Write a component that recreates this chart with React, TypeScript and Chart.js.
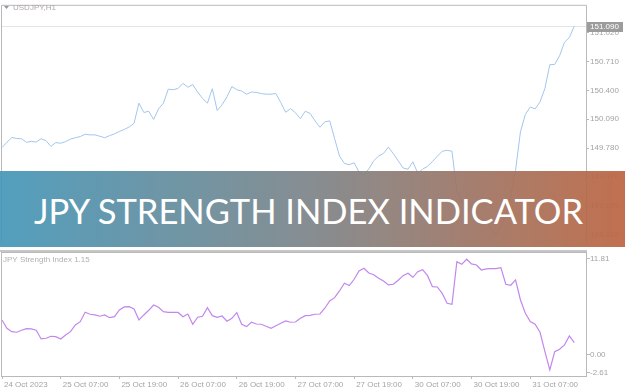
import React, { useEffect, useRef } from 'react';
import { Chart, registerables } from 'chart.js';

Chart.register(...registerables);

// ---------- data ----------
const timeLabels = [
  '24 Oct 2023', '25 Oct 07:00', '25 Oct 19:00', '26 Oct 07:00', '26 Oct 19:00',
  '27 Oct 07:00', '27 Oct 19:00', '30 Oct 07:00', '30 Oct 19:00', '31 Oct 07:00',
];
const labelBars = [0, 12, 24, 36, 48, 60, 72, 84, 96, 108];

const usdjpy = [
  149.787, 149.842, 149.894, 149.883, 149.880, 149.842, 149.852, 149.845, 149.880, 149.860,
  149.798, 149.839, 149.832, 149.849, 149.876, 149.891, 149.904, 149.928, 149.922, 149.922,
  149.907, 149.891, 149.914, 149.932, 149.959, 149.980, 150.007, 150.046, 150.263, 150.162,
  150.176, 150.087, 150.201, 150.263, 150.413, 150.407, 150.421, 150.475, 150.434, 150.462,
  150.382, 150.314, 150.263, 150.418, 150.183, 150.245, 150.331, 150.441, 150.407, 150.393,
  150.359, 150.382, 150.379, 150.366, 150.359, 150.359, 150.366, 150.269, 150.165, 150.204,
  150.159, 150.097, 150.176, 150.152, 150.072, 150.004, 150.062, 150.072, 149.883, 149.694,
  149.615, 149.601, 149.622, 149.522, 149.491, 149.556, 149.643, 149.694, 149.723, 149.790,
  149.721, 149.643, 149.566, 149.553, 149.632, 149.511, 149.553, 149.584, 149.635, 149.692,
  149.746, 149.756, 149.746, 149.315, 149.212, 149.108, 149.160, 149.036, 148.953, 149.005,
  148.902, 148.850, 148.933, 149.057, 149.263, 149.542, 149.956, 150.142, 150.221, 150.201,
  150.276, 150.421, 150.676, 150.679, 150.772, 150.917, 150.968, 151.090,
];

const jpyIndex = [
  3.91, 2.94, 2.55, 2.48, 2.71, 2.90, 2.86, 2.71, 1.70, 1.78,
  2.01, 1.97, 1.70, 2.16, 2.55, 3.33, 3.71, 4.80, 4.57, 4.49,
  4.34, 4.49, 4.17, 4.29, 5.07, 5.42, 5.45, 5.19, 3.91, 4.49,
  5.03, 5.65, 5.38, 4.87, 4.80, 4.80, 4.78, 4.29, 4.60, 3.41,
  4.22, 4.34, 5.34, 4.41, 4.22, 4.37, 3.76, 4.10, 4.76, 3.41,
  3.13, 3.64, 3.44, 3.41, 3.17, 2.94, 3.24, 3.52, 3.79, 3.64,
  3.67, 4.10, 4.41, 4.45, 4.57, 4.60, 5.27, 6.12, 6.50, 7.28,
  8.17, 7.90, 8.64, 9.60, 9.92, 9.37, 9.17, 8.76, 8.44, 7.98,
  8.06, 8.52, 9.06, 9.34, 8.87, 9.52, 9.76, 9.06, 7.78, 7.74,
  7.01, 5.85, 5.73, 10.69, 10.38, 10.97, 10.42, 10.30, 9.72, 9.84,
  9.87, 9.87, 9.99, 8.06, 7.94, 8.56, 6.23, 4.69, 3.71, 3.41,
  2.48, 0.22, -1.91, 0.22, 0.50, 1.00, 2.05, 1.27,
];

const priceTicks = [151.02, 150.71, 150.4, 150.09, 149.78, 149.47, 149.155, 148.845];
const lastPrice = 151.09;
const indexTicks = [11.81, 0, -2.61];

const symbolTitle = 'USDJPY,H1';
const indicatorTitle = 'JPY Strength Index 1.15';
const bannerText = 'JPY STRENGTH INDEX INDICATOR';

// ---------- styles ----------
const FRAME = '#b9b9b9';
const TEXT = '#a4a4a4';
const FONT = '8px "Liberation Sans", Arial, sans-serif';
const X_MAX = 119.4;

const upperPlugin = {
  id: 'upperFrame',
  beforeDatasetsDraw(chart: any) {
    const { ctx, chartArea: a } = chart;
    const y = Math.round(chart.scales.y.getPixelForValue(lastPrice)) + 0.5;
    ctx.save();
    ctx.strokeStyle = '#e4e4e4';
    ctx.lineWidth = 1;
    ctx.beginPath();
    ctx.moveTo(a.left, y);
    ctx.lineTo(a.right, y);
    ctx.stroke();
    ctx.restore();
  },
  afterDraw(chart: any) {
    const { ctx, chartArea: a } = chart;
    ctx.save();
    ctx.strokeStyle = FRAME;
    ctx.lineWidth = 1;
    ctx.beginPath();
    ctx.moveTo(a.left - 0.5, a.bottom);
    ctx.lineTo(a.left - 0.5, a.top - 0.5);
    ctx.lineTo(a.right + 0.5, a.top - 0.5);
    ctx.lineTo(a.right + 0.5, a.bottom);
    ctx.stroke();
    // title
    ctx.fillStyle = '#8a98a8';
    ctx.beginPath();
    ctx.moveTo(4, 6);
    ctx.lineTo(9, 6);
    ctx.lineTo(6.5, 9);
    ctx.closePath();
    ctx.fill();
    ctx.font = FONT;
    ctx.fillStyle = '#b0a8a8';
    ctx.textBaseline = 'middle';
    ctx.textAlign = 'left';
    ctx.fillText(symbolTitle, 13, 8);
    // last price tag
    const y = Math.round(chart.scales.y.getPixelForValue(lastPrice));
    ctx.fillStyle = '#9c9c9c';
    ctx.fillRect(a.right + 1, y - 4, 36, 10);
    ctx.fillStyle = '#ffffff';
    ctx.fillText(lastPrice.toFixed(3), a.right + 4, y + 1);
    ctx.restore();
  },
};

const lowerPlugin = {
  id: 'lowerFrame',
  afterDraw(chart: any) {
    const { ctx, chartArea: a } = chart;
    ctx.save();
    ctx.fillStyle = '#c6c6c6';
    ctx.fillRect(0, 0, a.right + 1, 2);
    ctx.strokeStyle = FRAME;
    ctx.lineWidth = 1;
    ctx.strokeRect(a.left - 0.5, a.top + 0.5, a.right - a.left + 1, a.bottom - a.top);
    ctx.font = FONT;
    ctx.fillStyle = '#b0b0b0';
    ctx.textBaseline = 'middle';
    ctx.textAlign = 'left';
    ctx.fillText(indicatorTitle, 3, a.top + 8);
    // right axis labels
    const yScale = chart.scales.y;
    indexTicks.forEach((v, i) => {
      let y = yScale.getPixelForValue(v);
      if (i === 0) y = a.top + 6;
      if (i === indexTicks.length - 1) y = a.bottom - 4;
      y = Math.round(y);
      ctx.strokeStyle = FRAME;
      ctx.beginPath();
      ctx.moveTo(a.right + 1, y + 0.5);
      ctx.lineTo(a.right + 4, y + 0.5);
      ctx.stroke();
      ctx.fillStyle = TEXT;
      ctx.fillText(v.toFixed(2), a.right + 4, y + 1);
    });
    ctx.restore();
  },
};

function Upper() {
  const ref = useRef<HTMLCanvasElement | null>(null);
  useEffect(() => {
    if (!ref.current) return;
    const chart = new Chart(ref.current, {
      type: 'line',
      data: {
        datasets: [
          {
            data: usdjpy.map((v, i) => ({ x: i, y: v })),
            borderColor: '#a3c6ee',
            borderWidth: 1,
            pointRadius: 0,
            tension: 0,
          },
        ],
      },
      options: {
        responsive: false,
        animation: false,
        devicePixelRatio: 1,
        layout: { padding: { left: 2, top: 2, right: 0, bottom: 0 } },
        plugins: { legend: { display: false }, tooltip: { enabled: false } },
        scales: {
          x: { type: 'linear', min: 0, max: X_MAX, display: false },
          y: {
            position: 'right',
            min: 148.747,
            max: 151.309,
            afterBuildTicks: (s: any) => {
              s.ticks = priceTicks.map((v) => ({ value: v }));
            },
            afterFit: (s: any) => {
              s.width = 39;
            },
            ticks: {
              autoSkip: false,
              padding: 1,
              color: TEXT,
              font: { family: '"Liberation Sans", Arial, sans-serif', size: 8 },
              callback: (v: any) => Number(v).toFixed(3),
            },
            grid: { drawOnChartArea: false, drawTicks: true, tickLength: 3, color: FRAME },
            border: { display: false },
          },
        },
      },
      plugins: [upperPlugin],
    } as any);
    return () => chart.destroy();
  }, []);
  return <canvas ref={ref} width={625} height={250} style={{ display: 'block' }} />;
}

function Lower() {
  const ref = useRef<HTMLCanvasElement | null>(null);
  useEffect(() => {
    if (!ref.current) return;
    const chart = new Chart(ref.current, {
      type: 'line',
      data: {
        datasets: [
          {
            data: jpyIndex.map((v, i) => ({ x: i, y: v })),
            borderColor: '#c287ec',
            borderWidth: 1.2,
            pointRadius: 0,
            tension: 0,
          },
        ],
      },
      options: {
        responsive: false,
        animation: false,
        devicePixelRatio: 1,
        layout: { padding: { left: 2, top: 2, right: 0, bottom: 0 } },
        plugins: { legend: { display: false }, tooltip: { enabled: false } },
        scales: {
          x: {
            type: 'linear',
            min: 0,
            max: X_MAX,
            afterBuildTicks: (s: any) => {
              s.ticks = labelBars.map((v) => ({ value: v }));
            },
            afterFit: (s: any) => {
              s.height = 15;
            },
            ticks: {
              autoSkip: false,
              maxRotation: 0,
              align: 'start',
              labelOffset: 2,
              padding: 1,
              color: TEXT,
              font: { family: '"Liberation Sans", Arial, sans-serif', size: 8 },
              callback: (v: any) => timeLabels[labelBars.indexOf(Number(v))],
            },
            grid: { drawOnChartArea: false, drawTicks: true, tickLength: 3, color: FRAME },
            border: { display: false },
          },
          y: {
            position: 'right',
            min: -2.61,
            max: 11.81,
            afterFit: (s: any) => {
              s.width = 39;
            },
            ticks: { display: false },
            grid: { display: false },
            border: { display: false },
          },
        },
      },
      plugins: [lowerPlugin],
    } as any);
    return () => chart.destroy();
  }, []);
  return <canvas ref={ref} width={625} height={141} style={{ display: 'block' }} />;
}

export default function App() {
  return (
    <div
      style={{
        position: 'absolute',
        left: 0,
        top: 0,
        width: 625,
        height: 391,
        background: '#ffffff',
        overflow: 'hidden',
      }}
    >
      <Upper />
      <Lower />
      <div
        style={{
          position: 'absolute',
          left: 0,
          top: 171,
          width: 625,
          height: 76,
          opacity: 0.93,
          background: 'linear-gradient(to right, #4698b9 0%, #7e8589 50%, #bd6642 100%)',
          display: 'flex',
          alignItems: 'center',
          justifyContent: 'center',
          boxSizing: 'border-box',
          paddingRight: 8,
          paddingTop: 2,
        }}
      >
        <span
          style={{
            color: '#ffffff',
            fontFamily: 'Lato, "Open Sans", sans-serif',
            fontSize: 34.5,
            fontWeight: 400,
            letterSpacing: 0,
            whiteSpace: 'nowrap',
          }}
        >
          {bannerText}
        </span>
      </div>
    </div>
  );
}
